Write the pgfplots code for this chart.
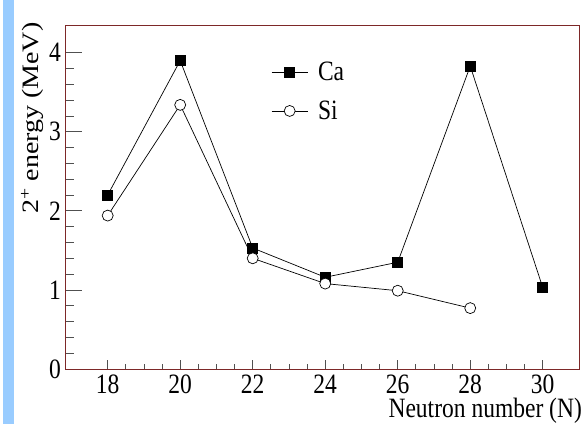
\documentclass[border=0pt]{standalone}
\usepackage{fontspec}
\setmainfont[FakeStretch=0.84]{Liberation Serif}
\newfontfamily\plainserif{Liberation Serif}
\usepackage{graphicx}
\usepackage{pgfplots}
\pgfplotsset{compat=1.18}
\definecolor{framered}{RGB}{125,40,40}
\definecolor{barblue}{RGB}{153,204,255}
\definecolor{tickgray}{RGB}{80,80,80}
\newcommand{\bigf}{\fontsize{28pt}{33pt}\selectfont}
\begin{document}
\begin{tikzpicture}
\useasboundingbox (0pt,0pt) rectangle (587pt,424pt);
\fill[white] (0pt,0pt) rectangle (587pt,424pt);
\fill[barblue] (3pt,0pt) rectangle (14pt,424pt);
% y ticks axis
\begin{axis}[
  at={(66pt,55pt)}, anchor=south west, scale only axis,
  width=513pt, height=344pt,
  xmin=16.85, xmax=31.0, ymin=0, ymax=4.35,
  axis line style={draw=none},
  xtick=\empty,
  ytick={0,1,2,3,4}, minor y tick num=4,
  ytick pos=left, tick align=inside,
  major tick length=16pt, minor tick length=8pt,
  tick style={draw=tickgray, line width=0.8pt},
  /pgf/number format/assume math mode=true,
  yticklabel style={font=\bigf, anchor=east, inner sep=0pt, xshift=-5pt},
]
\end{axis}
\begin{axis}[
  at={(66pt,55pt)}, anchor=south west, scale only axis,
  width=513pt, height=344pt,
  xmin=16.85, xmax=31.0, ymin=0, ymax=4.35,
  axis line style={draw=framered, line width=1pt},
  xtick={18,20,...,30}, minor x tick num=3,
  ytick=\empty,
  xtick pos=left, tick align=inside,
  major tick length=9pt, minor tick length=5pt,
  tick style={draw=tickgray, line width=0.8pt},
  /pgf/number format/assume math mode=true,
  xticklabel style={font=\bigf, anchor=north, inner sep=0pt, yshift=-6pt},
  xlabel={Neutron number (N)},
  xlabel style={at={(axis description cs:1.006,-0.1424)}, anchor=base east, inner sep=0pt, font=\bigf},
  ylabel={\scalebox{1}[0.84]{\plainserif\bigf 2\textsuperscript{+} energy (MeV)}},
  ylabel style={at={(axis description cs:-0.066,1.008)}, anchor=east, inner sep=0pt},
  legend image code/.code={\draw[mark repeat=2,mark phase=2,#1] plot coordinates {(0pt,0pt) (18pt,0pt) (36pt,0pt)}; \path (44pt,0pt);},
  legend style={draw=none, fill=none, font=\bigf, at={(axis description cs:0.394,0.905)}, anchor=north west, row sep=15pt},
  legend cell align=left,
]
\addplot[black, line width=0.7pt, mark=square*, mark size=5pt, mark options={fill=black, solid}]
  coordinates {(18,2.20) (20,3.90) (22,1.53) (24,1.16) (26,1.35) (28,3.83) (30,1.03)};
\addlegendentry{Ca}
\addplot[black, line width=0.7pt, mark=*, mark size=5.5pt, mark options={fill=white, solid}]
  coordinates {(18,1.94) (20,3.34) (22,1.40) (24,1.08) (26,0.99) (28,0.77)};
\addlegendentry{Si}
\end{axis}
\end{tikzpicture}
\end{document}
